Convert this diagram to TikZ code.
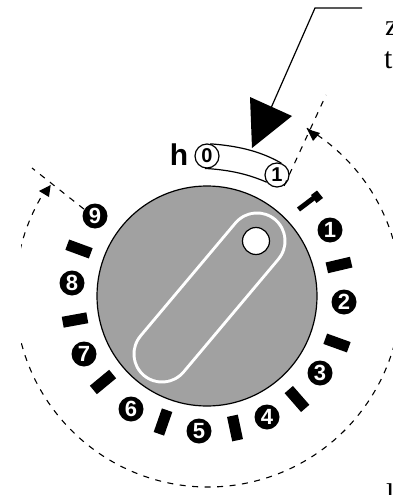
\documentclass[tikz,border=0pt]{standalone}
\usepackage{fontspec}
\setmainfont{Liberation Serif}
\setsansfont{Liberation Sans}
\usetikzlibrary{calc}
\tikzset{
  dashline/.style={draw=black,line width=1.1pt,dash pattern=on 6pt off 6.5pt},
  ticmark/.style={draw=black,line width=11pt,line cap=butt},
  outline/.style={draw=black,line width=1.2pt},
  numdot/.style={circle,fill=black,text=white,inner sep=0pt,minimum size=25pt,font=\sffamily\bfseries\fontsize{22}{22}\selectfont},
  slidernum/.style={circle,draw=black,fill=white,line width=1.2pt,inner sep=0pt,minimum size=24pt,font=\sffamily\bfseries\fontsize{20}{20}\selectfont},
  bodytext/.style={inner sep=0pt,anchor=base west,font=\fontsize{30}{30}\selectfont}
}
\begin{document}
\begin{tikzpicture}[x=1pt,y=-1pt]
\useasboundingbox (0,0) rectangle (393,495);
\clip (0,0) rectangle (393,495);
\coordinate (c) at (207,296);
\coordinate (arcc) at (208,294);
% dashed travel arc
\begin{scope}
\clip (21,0) rectangle (393,495);
\draw[dashline] (arcc) ++(-59.2:193) arc[start angle=-59.2,end angle=214.6,radius=193];
\end{scope}
\fill (307,129) -- (320,133) -- (313,141) -- cycle;
\fill (50.7,185) -- (39,191) -- (49,197) -- cycle;
% disk
\draw[outline,fill=black!37] (c) circle[radius=110];
\coordinate (hA) at (257,241);
\coordinate (hB) at (162,354);
\draw[white,line width=59pt,line cap=round] (hA) -- (hB);
\draw[black!37,line width=53pt,line cap=round] (hA) -- (hB);
\draw[outline,fill=white] (256,241) circle[radius=13.5];
% number dots
\foreach \n/\x/\y in {1/330/230,2/344/302,3/320/373,4/267/417,5/199/431,6/131/409,7/84/354,8/72/283,9/95/216}
  \node[numdot] (n\n) at (\x,\y) {\n};
% tick marks
\foreach \x/\y in {79/249,75/320,103/382,163/422,235/428,297/399,337/343,339/265}
  \draw[ticmark] ($(\x,\y)!12.5pt!(c)$) -- ($(\x,\y)!-12.5pt!(c)$);
% zero mark
\draw[black,line width=5pt] (298.5,209.5) -- (315,197);
\fill (311,195) -- (317,190.5) -- (323,198) -- (316.5,203) -- cycle;
% slider
\node[slidernum] (s0) at (207,156) {0};
\node[slidernum] (s1) at (277,175) {1};
\draw[outline] (s0.75) .. controls (240,146) and (262,152) .. (s1.70);
\draw[outline] (s0.-100) .. controls (232,170) and (250,175) .. (s1.-145);
\node[anchor=base,inner sep=0pt,font=\sffamily\bfseries\fontsize{30}{30}\selectfont] (hlabel) at (179,165) {h};
% leaders
\coordinate (lead9) at (32,168);
\coordinate (lead1) at (326,95);
\draw[dashline] (n9) ++(-148:13) -- (lead9);
\draw[dashline] (s1) ++(57:13) -- (lead1);
% solid pointer
\coordinate (pa) at (362,8);
\coordinate (pb) at (315,8);
\coordinate (pc) at (271,108);
\draw[outline] (pa) -- (pb) -- (pc);
\fill (250,97) -- (292,116) -- (252,148) -- cycle;
% cut-off text
\node[bodytext] (tz) at (385,36) {z};
\node[bodytext] (tt) at (384,68) {t};
\node[bodytext] (tl) at (386,504.5) {l};
\end{tikzpicture}
\end{document}
